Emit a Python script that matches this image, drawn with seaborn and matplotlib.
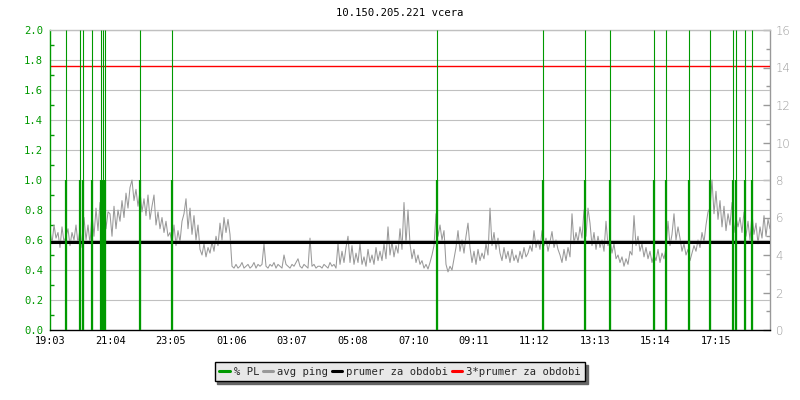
import matplotlib
matplotlib.use("Agg")
import matplotlib.pyplot as plt
import numpy as np
import pandas as pd
import seaborn as sns
from matplotlib.lines import Line2D
from matplotlib.ticker import MultipleLocator

TITLE = "10.150.205.221 vcera"
START = "19:03"
TICK_LABELS = ["19:03", "21:04", "23:05", "01:06", "03:07", "05:08",
               "07:10", "09:11", "11:12", "13:13", "15:14", "17:15"]

# avg ping [ms], one sample per 4 minutes from 19:03 (one row = one hour)
PING_MS = [
    5.3, 4.6, 5.6, 4.9, 5.2, 4.4, 5.5, 4.7, 5.0, 5.4, 4.5, 5.2, 4.8, 5.6, 4.6,
    5.4, 4.4, 6.0, 4.8, 5.6, 4.6, 6.2, 5.0, 6.5, 5.3, 6.8, 5.6, 7.0, 5.4, 6.3,
    6.2, 5.0, 6.6, 5.4, 6.4, 5.8, 6.9, 6.0, 7.3, 6.5, 7.6, 8.0, 6.9, 7.5, 6.6,
    7.4, 6.3, 7.0, 6.1, 7.2, 5.9, 6.6, 7.2, 5.6, 6.3, 5.4, 6.0, 5.2, 5.8, 5.0,
    5.2, 4.6, 5.6, 4.5, 5.3, 4.7, 5.8, 6.2, 7.0, 5.4, 6.5, 5.1, 6.1, 4.8, 5.6,
    4.3, 4.0, 4.6, 3.9, 4.4, 4.1, 4.7, 4.2, 5.0, 4.5, 5.7, 4.8, 6.0, 5.2, 5.9,
    5.1, 3.4, 3.3, 3.5, 3.3, 3.4, 3.6, 3.3, 3.4, 3.5, 3.3, 3.4, 3.6, 3.3, 3.5,
    3.4, 3.5, 4.6, 3.4, 3.3, 3.5, 3.4, 3.6, 3.3, 3.5, 3.4, 3.3, 4.0, 3.5, 3.4,
    3.3, 3.5, 3.4, 3.6, 3.8, 3.4, 3.3, 3.5, 3.4, 3.3, 4.9, 3.4, 3.5, 3.3, 3.4,
    3.4, 3.3, 3.5, 3.4, 3.3, 3.6, 3.4, 3.5, 3.3, 4.6, 3.5, 4.2, 3.6, 4.4, 5.0,
    3.6, 4.5, 3.5, 4.1, 3.6, 4.6, 3.5, 3.9, 3.4, 4.3, 3.6, 4.0, 3.5, 4.4, 3.7,
    4.2, 3.7, 4.6, 3.8, 5.5, 4.0, 4.7, 3.9, 4.5, 4.1, 5.4, 4.3, 6.8, 4.6, 6.4,
    4.6, 3.8, 4.3, 3.6, 4.0, 3.5, 3.7, 3.3, 3.5, 3.25, 3.6, 4.0, 4.5, 6.2, 5.0,
    5.6, 4.8, 5.3, 3.5, 3.1, 3.4, 3.2, 3.8, 4.4, 5.3, 4.2, 4.8, 4.1, 5.0, 5.7,
    4.4, 3.6, 4.2, 3.5, 4.3, 3.7, 4.1, 3.8, 4.6, 4.0, 6.5, 4.5, 5.2, 4.3, 4.9,
    4.1, 3.7, 4.4, 3.8, 4.2, 3.6, 4.3, 3.7, 4.0, 3.6, 4.2, 3.8, 4.4, 3.9, 4.1,
    4.5, 4.2, 5.3, 4.4, 4.8, 4.3, 5.3, 4.5, 4.9, 4.2, 4.7, 5.25, 4.4, 4.8, 4.3,
    4.0, 3.6, 4.3, 3.7, 4.4, 3.9, 6.2, 4.6, 5.2, 4.7, 5.5, 4.9, 6.4, 5.0, 6.5,
    5.7, 4.5, 5.2, 4.3, 5.0, 4.4, 4.8, 4.2, 5.8, 4.5, 4.9, 4.1, 4.6, 3.8, 4.0,
    3.6, 3.9, 3.4, 3.8, 3.5, 4.2, 4.0, 6.1, 4.5, 5.0, 4.2, 4.6, 3.9, 4.4, 3.8,
    4.2, 3.6, 4.0, 3.7, 4.3, 3.6, 4.1, 3.8, 4.4, 5.8, 4.5, 5.1, 6.2, 4.8, 5.5,
    4.9, 4.2, 4.6, 4.0, 4.3, 3.7, 4.1, 4.5, 4.2, 4.8, 4.4, 5.2, 4.7, 5.6, 6.3,
    6.5, 8.0, 6.2, 7.4, 5.9, 6.9, 5.5, 6.6, 5.3, 6.2, 5.6, 6.8, 5.2, 6.0, 5.5,
    6.0, 5.2, 6.3, 5.0, 5.8, 4.8, 6.2, 5.1, 5.7, 4.6, 5.5, 4.9, 6.1, 5.0, 5.9,
    5.4,
]
PING_STEP_MIN = 4

# packet loss events: minutes after 19:03, loss fraction
PL_MIN = [31, 59, 66, 84, 102, 105, 109, 180, 244, 773, 986, 1070,
          1120, 1208, 1232, 1278, 1320, 1366, 1371, 1390, 1404]
PL_VAL = [1.0] * len(PL_MIN)

GREEN = "#009900"
GREY = "#999999"
MONO = ["DejaVu Sans Mono", "DejaVu Sans"]


def minutes_from_start(label: str) -> int:
    h, m = map(int, label.split(":"))
    h0, m0 = map(int, START.split(":"))
    return ((h * 60 + m) - (h0 * 60 + m0)) % 1440


sns.set_theme(style="white")
plt.rcParams["font.family"] = MONO

ping = pd.DataFrame({
    "minute": np.arange(len(PING_MS)) * PING_STEP_MIN,
    "ping": PING_MS,
})
mean_ping = ping["ping"].mean()
SCALE = 8.0  # right axis (ms) / left axis (% PL)
ping["left"] = ping["ping"] / SCALE

fig = plt.figure(figsize=(8, 4), dpi=100)
ax = fig.add_axes([0.0625, 0.175, 0.9, 0.75])

for v in np.arange(0.2, 2.01, 0.2):
    ax.axhline(v, color="#c0c0c0", lw=0.8, zorder=0.5)

sns.lineplot(data=ping, x="minute", y="left", ax=ax, color=GREY, lw=0.75,
             zorder=1, legend=False)
ax.axhline(mean_ping / SCALE, color="black", lw=2.2, zorder=2)
ax.axhline(3 * mean_ping / SCALE, color="red", lw=1.0, zorder=2)

# PL: thick bar up to the value, thin marker line across the whole plot
ax.vlines(PL_MIN, 0, PL_VAL, colors=GREEN, lw=1.6, zorder=3)
ax.vlines(PL_MIN, 0, 1, colors=GREEN, lw=0.8, zorder=3,
          transform=ax.get_xaxis_transform())

ax.set_xlim(0, 1440)
ax.set_ylim(0, 2.0)
ax.set_xlabel("")
ax.set_ylabel("")
ax.set_xticks([minutes_from_start(t) for t in TICK_LABELS])
ax.set_xticklabels(TICK_LABELS)
ax.yaxis.set_major_locator(MultipleLocator(0.2))
ax.yaxis.set_minor_locator(MultipleLocator(0.1))
ax.yaxis.set_major_formatter(plt.FormatStrFormatter("%.1f"))

ax.tick_params(axis="x", direction="in", length=5, width=1, color="black",
               labelcolor="black", labelsize=7.4, pad=4)
ax.tick_params(axis="y", which="major", direction="in", length=5, width=1,
               color=GREEN, labelcolor=GREEN, labelsize=7.6, pad=5)
ax.tick_params(axis="y", which="minor", direction="in", length=3, width=1,
               color=GREEN, left=True)

ax.spines["left"].set_color(GREEN)
ax.spines["bottom"].set_color("black")
ax.spines["top"].set_color("#c0c0c0")
ax.spines["right"].set_visible(False)
for s in ax.spines.values():
    s.set_linewidth(1.0)

sec = ax.secondary_yaxis("right", functions=(lambda y: y * SCALE, lambda y: y / SCALE))
sec.yaxis.set_major_locator(MultipleLocator(2))
sec.yaxis.set_minor_locator(MultipleLocator(1))
sec.tick_params(which="major", direction="in", length=5, width=1, color=GREY,
                labelcolor=GREY, labelsize=8.5, pad=4)
sec.tick_params(which="minor", direction="in", length=3, width=1, color=GREY)
for lab in sec.get_yticklabels():
    lab.set_family(["DejaVu Sans"])
    lab.set_fontweight("light")
sec.spines["right"].set_color(GREY)
sec.spines["right"].set_linewidth(1.0)

fig.text(0.5, 1 - 13 / 400, TITLE, ha="center", va="center", fontsize=7.6,
         color="black")

handles = [
    Line2D([], [], color=GREEN, lw=2.2),
    Line2D([], [], color=GREY, lw=2.2),
    Line2D([], [], color="black", lw=2.2),
    Line2D([], [], color="red", lw=2.2),
]
labels = ["% PL", "avg ping", "prumer za obdobi", "3*prumer za obdobi"]
leg = fig.legend(handles, labels, loc="center", bbox_to_anchor=(0.5, 0.071),
                 ncol=4, fontsize=7.6, handlelength=1.0, handletextpad=0.35,
                 columnspacing=0.35, borderpad=0.45, fancybox=False,
                 framealpha=1, facecolor="#e8e8e8", edgecolor="black",
                 shadow={"color": "#666666", "alpha": 1})
leg.get_frame().set_linewidth(1.0)

fig.savefig("out.png", dpi=100)
